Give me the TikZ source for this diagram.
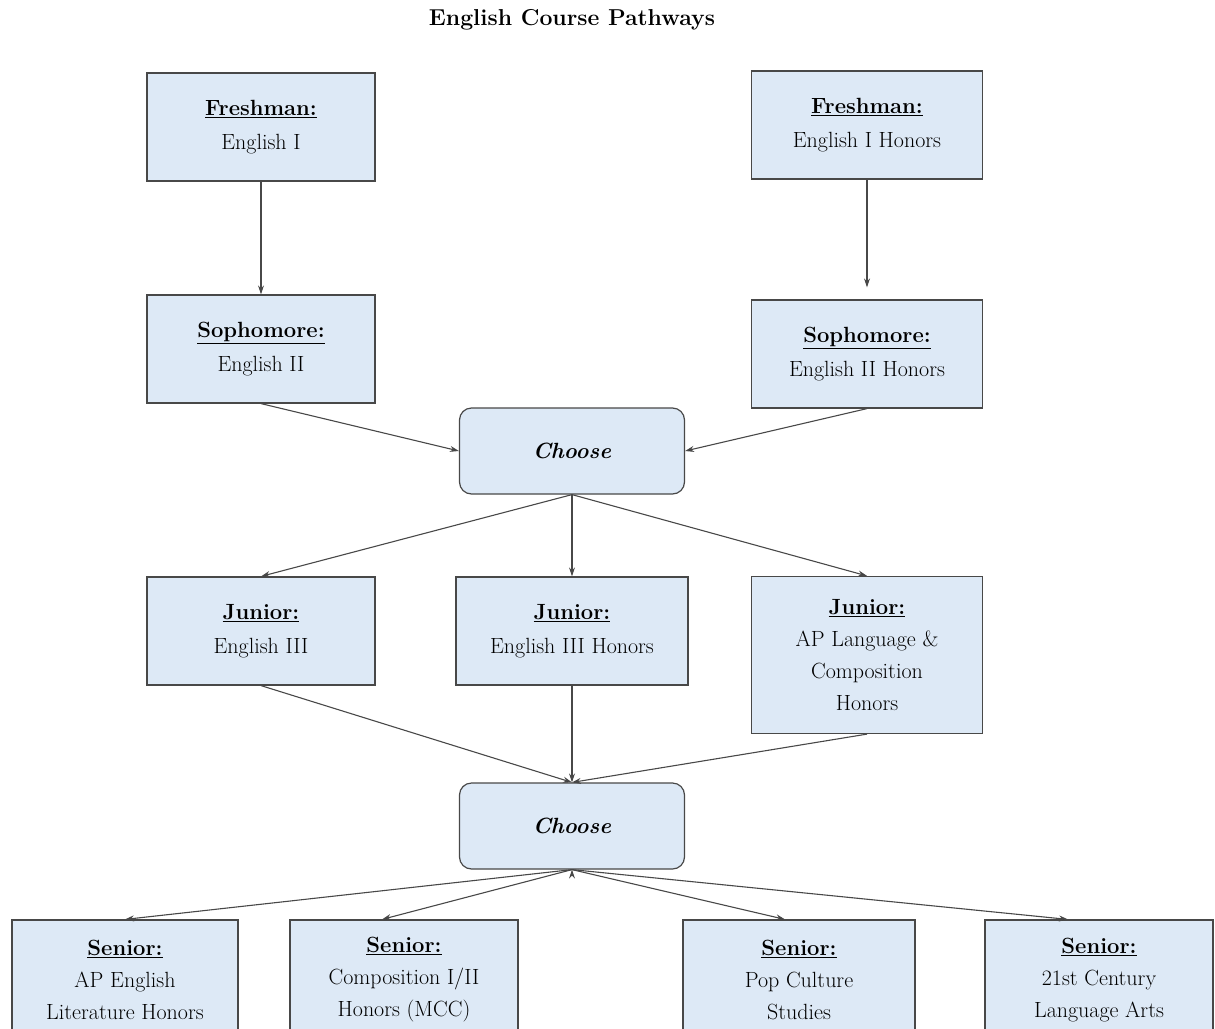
\documentclass[tikz,border=0pt]{standalone}
\usetikzlibrary{positioning, arrows.meta}
\definecolor{boxblue}{RGB}{221,233,246}
\definecolor{edgegray}{RGB}{72,72,72}

\begin{document}
\begin{tikzpicture}[x=1pt,y=-1pt,>={Stealth[length=9pt,width=6pt]},font=\fontsize{22}{34}\selectfont]
\tikzstyle{course}=[rectangle,draw=edgegray,fill=boxblue,line width=1.2pt,minimum width=228pt,minimum height=108pt,align=center,inner sep=2pt]
\tikzstyle{choice}=[course,rounded corners=12pt,minimum width=225pt,minimum height=86pt]
\tikzstyle{flow}=[->,draw=edgegray,line width=1.1pt]

\useasboundingbox (0,0) rectangle (1215,1028);

%-- Title --
\node (title) at (572,20) {\fontsize{23}{26}\selectfont\textbf{English Course Pathways}};

%-- Freshman and sophomore --
\node[course] (fr) at (261,127) {\underline{\textbf{Freshman:}}\\English I};
\node[course, minimum width=231pt] (frh) at (867,125) {\underline{\textbf{Freshman:}}\\English I Honors};
\node[course] (so) at (261,349) {\underline{\textbf{Sophomore:}}\\English II};
\node[course, minimum width=231pt] (soh) at (867,354) {\underline{\textbf{Sophomore:}}\\English II Honors};

\node[choice] (pick1) at (572,451) {\textbf{\textit{Choose}}};

%-- Junior --
\node[course] (ju) at (261,631) {\underline{\textbf{Junior:}}\\English III};
\node[course, minimum width=232pt] (juh) at (572,631) {\underline{\textbf{Junior:}}\\English III Honors};
\node[course, minimum width=231pt, minimum height=157pt, font=\fontsize{22}{32}\selectfont] (jap) at (867,655) {\underline{\textbf{Junior:}}\\AP Language \&\\Composition\\Honors};

\node[choice] (pick2) at (572,826) {\textbf{\textit{Choose}}};

%-- Senior --
\node[course, minimum width=226pt, minimum height=120pt, font=\fontsize{22}{32}\selectfont] (sap) at (125,980) {\underline{\textbf{Senior:}}\\AP English\\Literature Honors};
\node[course, minimum height=120pt, font=\fontsize{22}{32}\selectfont] (scomp) at (404,980) {\underline{\textbf{Senior:}}\\Composition I/II\\Honors (MCC)};
\node[course, minimum width=232pt, minimum height=120pt, font=\fontsize{22}{32}\selectfont] (spop) at (799,980) {\underline{\textbf{Senior:}}\\Pop Culture\\Studies};
\node[course, minimum height=120pt, font=\fontsize{22}{32}\selectfont] (scent) at (1099,980) {\underline{\textbf{Senior:}}\\21st Century\\Language Arts};

%-- Transitions --
\path[flow]
  % freshman to sophomore
  (fr) edge (so)
  (frh.south) edge ([yshift=12pt]soh.north)

  % sophomore to choose
  (so.south) edge (pick1.west)
  (soh.south) edge (pick1.east)

  % choose to junior
  (pick1.south) edge (ju.north)
  (pick1.south) edge (juh.north)
  (pick1.south) edge (jap.north)

  % junior to choose
  (ju.south) edge (pick2.north)
  (juh.south) edge (pick2.north)
  (jap.south) edge (pick2.north)

  % choose to senior
  (pick2.south) edge (sap.north)
  (pick2.south) edge ([xshift=-22pt]scomp.north)
  (pick2.south) edge ([xshift=-14pt]spop.north)
  (pick2.south) edge ([xshift=-31pt]scent.north);

\end{tikzpicture}
\end{document}
